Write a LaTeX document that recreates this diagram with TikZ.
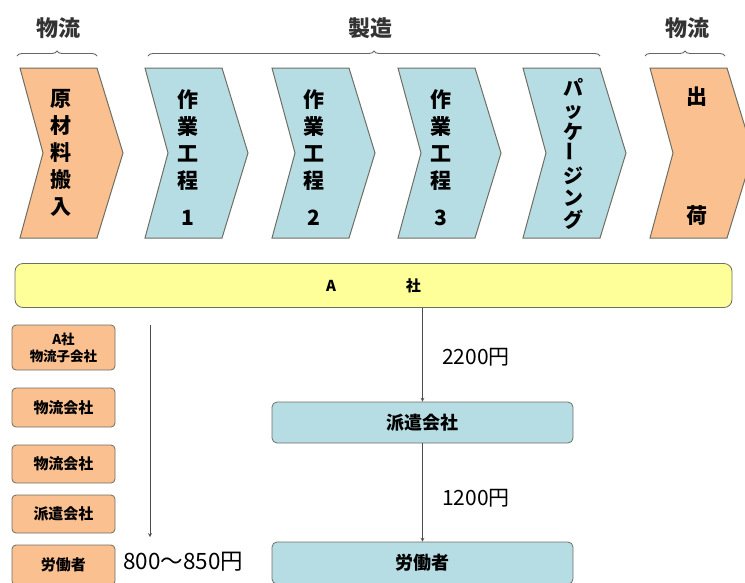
\documentclass[tikz,border=0pt]{standalone}
\usepackage{fontspec}
\setmainfont{Noto Sans CJK JP}
\usetikzlibrary{positioning,decorations.pathreplacing}

\definecolor{chevorange}{RGB}{250,192,143}
\definecolor{chevblue}{RGB}{183,221,228}
\definecolor{baryellow}{RGB}{255,255,153}
\definecolor{edgegray}{RGB}{110,110,100}

\tikzset{
  chevfill/.style={draw=edgegray, line width=1pt},
  vtext/.style={align=center, inner sep=0pt, font=\bfseries\fontsize{21}{27}\selectfont},
  headlabel/.style={inner sep=0pt, font=\bfseries\fontsize{22}{24}\selectfont, text=black!80},
  bracket/.style={decorate, decoration={brace, amplitude=5pt}, gray!80!black, line width=0.9pt},
  smallbox/.style={draw=edgegray, fill=chevorange, rounded corners=4pt, minimum width=103pt,
    line width=0.8pt, align=center, inner sep=0pt, font=\bfseries\fontsize{15}{17}\selectfont},
  wagebox/.style={draw=edgegray, fill=chevblue, rounded corners=5pt, minimum width=301pt,
    line width=0.8pt, inner sep=0pt, font=\bfseries\fontsize{18}{20}\selectfont},
  flow/.style={->, >=stealth, gray!60!black, line width=0.7pt},
  price/.style={anchor=west, inner sep=0pt, font=\fontsize{21}{22}\selectfont},
}

\begin{document}
\begin{tikzpicture}[x=1pt,y=-1pt]
    \useasboundingbox (0,0) rectangle (745,582);
    % Headings over the process chain
    \node[headlabel] (logi1) at (58,28) {物流};
    \node[headlabel] (seizo) at (370,28) {製造};
    \node[headlabel] (logi2) at (687,28) {物流};
    \draw[bracket] (17,56) -- (97,56);
    \draw[bracket] (148,56) -- (600,56);
    \draw[bracket] (645,56) -- (725,56);
    % Chevrons
    \foreach \x/\c in {20/chevorange,145/chevblue,272/chevblue,398/chevblue,523/chevblue,650/chevorange} {
      \draw[chevfill, fill=\c] (\x,68) -- ++(77,0) -- ++(26,85) -- ++(-26,85) -- ++(-77,0) -- ++(23,-85) -- cycle;
    }
    \node[vtext] (genzai) at (61,153) {原\\材\\料\\搬\\入};
    \foreach \x/\n in {188/1,314/2,441/3} {
      \node[vtext] (koutei\n) at (\x,158) {作\\業\\工\\程\\[10pt]\n};
    }
    \node[vtext, font=\bfseries\fontsize{20}{22}\selectfont] (package) at (573,154)
      {パ\\ッ\\ケ\\\rotatebox{90}{ー}\\ジ\\ン\\グ};
    \node[vtext] (shukka) at (697,156) {出\\[92pt]荷};
    % A company bar
    \node[draw=edgegray, fill=baryellow, rounded corners=8pt, line width=0.8pt,
      minimum width=717pt, minimum height=44pt, inner sep=0pt,
      font=\bfseries\fontsize{15}{16}\selectfont] (acompany) at (373.5,285.5) {A\hspace{70pt}社};
    % Left column: logistics chain
    \node[smallbox, minimum height=45pt, font=\bfseries\fontsize{13.5}{17}\selectfont] (kogaisha) at (63.5,347.5) {A社\\物流子会社};
    \node[smallbox, minimum height=39pt] (butsuryu1) at (63.5,407.5) {物流会社};
    \node[smallbox, minimum height=38pt] (butsuryu2) at (63.5,464) {物流会社};
    \node[smallbox, minimum height=38pt] (hakenl) at (63.5,514) {派遣会社};
    \node[smallbox, minimum height=40pt] (roudoul) at (63.5,565) {労働者};
    \coordinate (chaintop) at (150,325);
    \coordinate (chainend) at (150,537);
    \draw[flow] (chaintop) -- (chainend);
    \node[price, font=\fontsize{22.5}{24}\selectfont] (wageleft) at (123,562) {800〜850円};
    % Right column: dispatch chain
    \node[wagebox, minimum height=41pt] (haken) at (422.5,422.5) {派遣会社};
    \node[wagebox, minimum height=42pt] (roudou) at (422.5,563) {労働者};
    \draw[flow] (acompany.south -| haken.north) -- (haken.north);
    \draw[flow] (haken) -- (roudou);
    \node[price] (wage1) at (442,357) {2200円};
    \node[price] (wage2) at (442,498) {1200円};
\end{tikzpicture}
\end{document}
